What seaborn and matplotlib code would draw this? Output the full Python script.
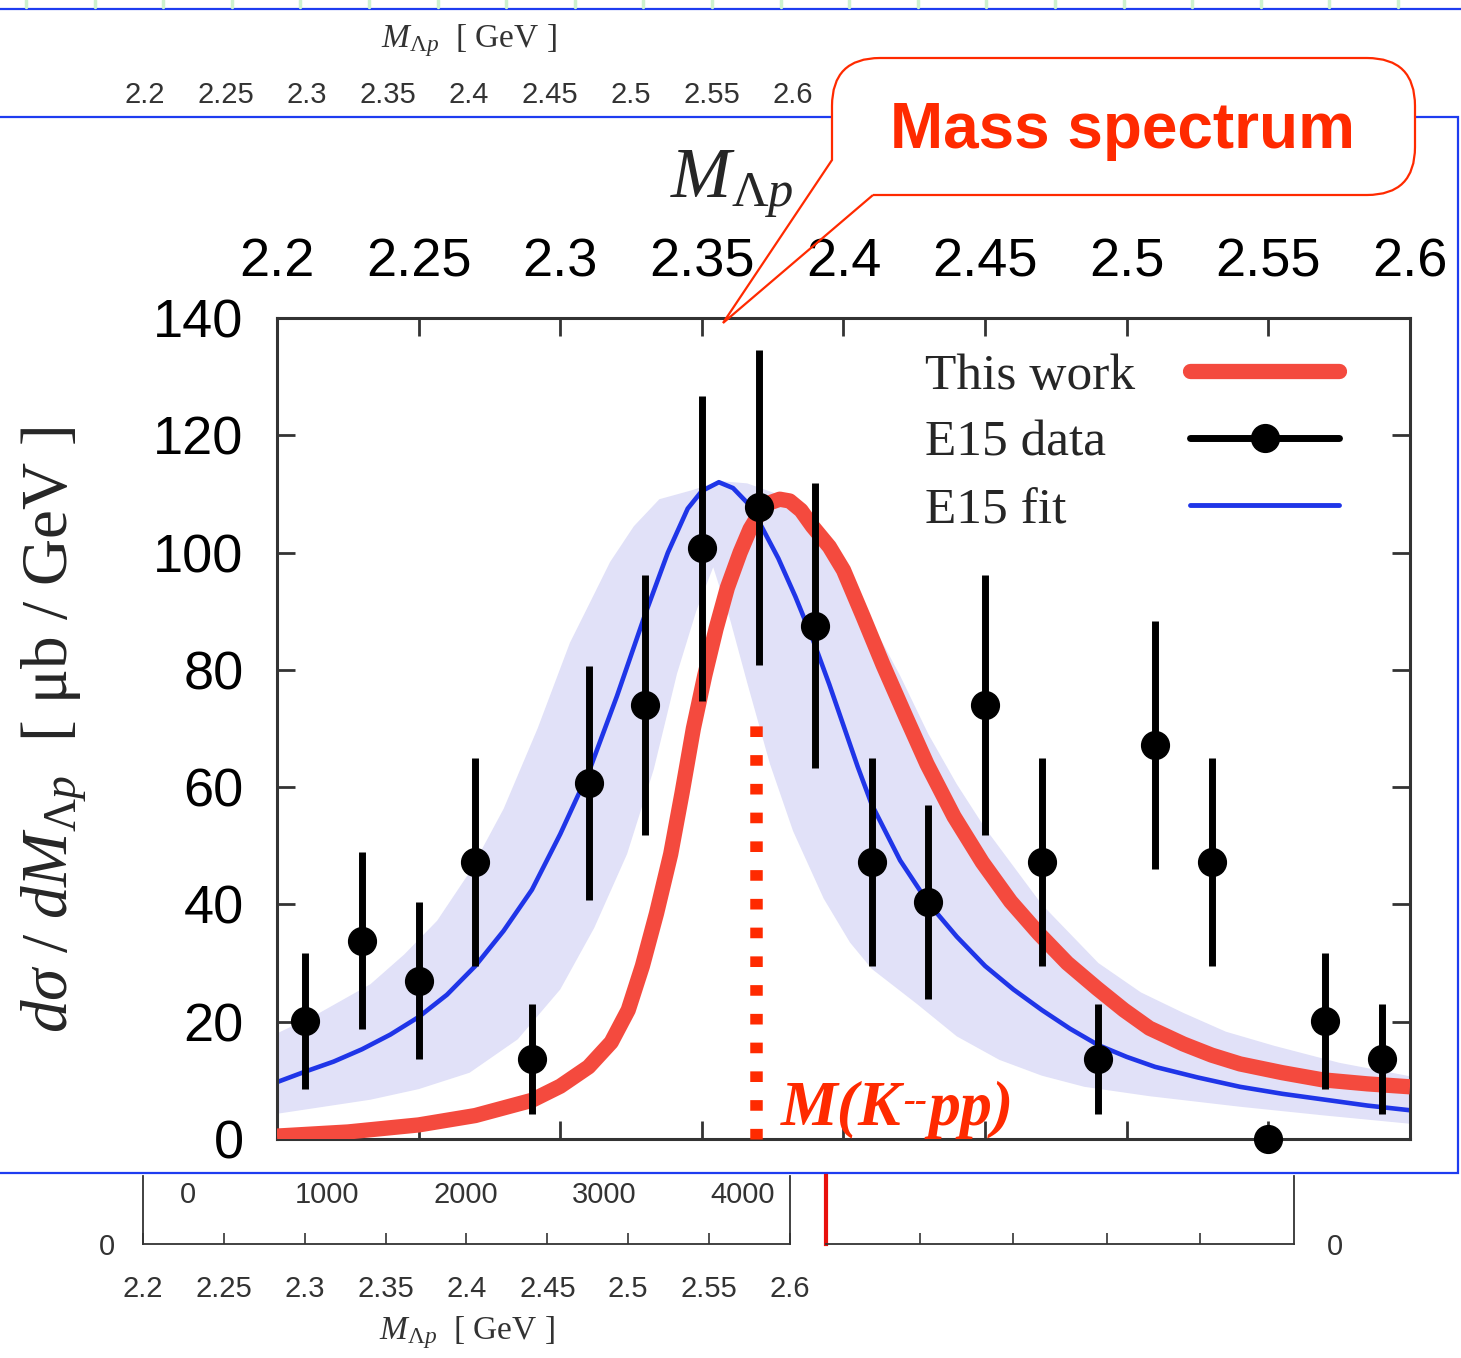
import numpy as np
import pandas as pd
import matplotlib
matplotlib.use("Agg")
import matplotlib.pyplot as plt
import seaborn as sns
from matplotlib.path import Path
from matplotlib.patches import PathPatch, Rectangle
from matplotlib.lines import Line2D

# ---------------- data ----------------
# E15 data points (Lambda-p invariant mass, cross section and error)
e15_mass = [2.21, 2.23, 2.25, 2.27, 2.29, 2.31, 2.33, 2.35, 2.37, 2.39,
            2.41, 2.43, 2.45, 2.47, 2.49, 2.51, 2.53, 2.55, 2.57, 2.59]
e15_xsec = [20.1, 33.8, 27.0, 47.2, 13.6, 60.7, 74.0, 100.7, 107.7, 87.5,
            47.2, 40.4, 74.0, 47.2, 13.6, 67.2, 47.2, 0.0, 20.1, 13.6]
e15_err = [11.6, 15.1, 13.4, 17.7, 9.4, 20.0, 22.1, 26.0, 26.9, 24.3,
           17.7, 16.5, 22.1, 17.7, 9.4, 21.2, 17.7, 0.0, 11.6, 9.4]

# E15 fit curve
fit_mass = [2.200, 2.210, 2.220, 2.230, 2.240, 2.250, 2.260, 2.270, 2.280, 2.290,
            2.300, 2.310, 2.320, 2.330, 2.338, 2.345, 2.350, 2.356, 2.361, 2.366,
            2.371, 2.377, 2.383, 2.389, 2.395, 2.400, 2.405, 2.410, 2.420, 2.430,
            2.440, 2.450, 2.460, 2.470, 2.480, 2.490, 2.500, 2.510, 2.525, 2.540,
            2.555, 2.570, 2.585, 2.600]
fit_xsec = [9.7, 11.5, 13.2, 15.3, 17.8, 20.8, 24.6, 29.5, 35.5, 42.5,
            52.0, 62.5, 75.5, 89.5, 100.0, 107.5, 110.5, 112.0, 111.0, 108.5,
            104.5, 99.0, 92.5, 85.4, 77.5, 70.5, 63.5, 57.0, 47.5, 40.2,
            34.5, 29.5, 25.5, 22.0, 18.8, 16.0, 14.0, 12.3, 10.5, 8.9,
            7.7, 6.7, 5.7, 4.9]

# E15 fit uncertainty band: upper and lower edges
band_hi_mass = [2.200, 2.215, 2.233, 2.245, 2.2565, 2.268, 2.280, 2.292, 2.3034, 2.310,
                2.3176, 2.326, 2.335, 2.347, 2.356, 2.366, 2.3765, 2.385, 2.393, 2.400,
                2.410, 2.420, 2.430, 2.440, 2.450, 2.460, 2.470, 2.480, 2.490, 2.505,
                2.520, 2.535, 2.552, 2.575, 2.600]
band_hi_xsec = [18.0, 21.5, 26.4, 31.5, 37.2, 45.5, 56.3, 70.0, 84.6, 91.0,
                98.4, 104.5, 109.1, 110.7, 112.2, 111.8, 110.0, 106.0, 101.0, 96.0,
                88.0, 79.0, 69.0, 60.5, 53.0, 46.5, 40.0, 35.0, 30.0, 25.0,
                21.5, 18.3, 15.9, 13.0, 10.7]
band_lo_mass = [2.200, 2.233, 2.250, 2.268, 2.285, 2.300, 2.312, 2.3236, 2.333, 2.3412,
                2.348, 2.354, 2.360, 2.366, 2.374, 2.3822, 2.393, 2.4023, 2.410, 2.426,
                2.440, 2.455, 2.470, 2.485, 2.508, 2.540, 2.570, 2.600]
band_lo_xsec = [4.3, 6.7, 8.5, 11.3, 17.0, 25.5, 36.0, 48.6, 63.0, 79.3,
                90.0, 97.5, 88.5, 77.8, 64.0, 52.5, 41.0, 33.5, 29.0, 23.0,
                17.5, 13.5, 10.8, 8.9, 7.3, 5.5, 4.0, 2.6]

# This work
calc_mass = [2.200, 2.225, 2.250, 2.270, 2.290, 2.300, 2.310, 2.318, 2.324, 2.329,
             2.334, 2.339, 2.343, 2.347, 2.351, 2.355, 2.359, 2.3635, 2.367, 2.3705,
             2.374, 2.3775, 2.381, 2.385, 2.389, 2.395, 2.400, 2.407, 2.414, 2.422,
             2.4295, 2.439, 2.449, 2.459, 2.469, 2.479, 2.4895, 2.499, 2.508, 2.520,
             2.530, 2.540, 2.555, 2.569, 2.585, 2.600]
calc_xsec = [0.5, 1.2, 2.4, 4.0, 6.6, 9.0, 12.3, 16.5, 22.0, 29.5,
             38.5, 48.6, 59.0, 70.0, 79.0, 87.0, 94.0, 100.0, 104.0, 106.8,
             108.5, 109.1, 108.8, 107.2, 104.5, 101.0, 97.0, 89.0, 80.8, 72.0,
             63.9, 55.0, 47.2, 40.5, 35.0, 30.0, 25.7, 22.0, 18.9, 16.2,
             14.3, 12.8, 11.3, 10.1, 9.4, 8.9]

# K- pp mass marker
kpp_mass = 2.369
kpp_line_top = 72.0

# axis ticks
mass_ticks = [2.2, 2.25, 2.3, 2.35, 2.4, 2.45, 2.5, 2.55, 2.6]
mass_tick_labels = ["2.2", "2.25", "2.3", "2.35", "2.4", "2.45", "2.5", "2.55", "2.6"]
xsec_ticks = [0, 20, 40, 60, 80, 100, 120, 140]
count_ticks = [0, 1000, 2000, 3000, 4000]
count_tick_labels = ["0", "1000", "2000", "3000", "4000"]
legend_labels = ["This work", "E15 data", "E15 fit"]

# ---------------- style ----------------
sns.set_theme(style="ticks")
plt.rcParams["font.family"] = ["Liberation Sans", "DejaVu Sans"]
plt.rcParams["mathtext.fontset"] = "custom"
plt.rcParams["mathtext.rm"] = "Liberation Serif"
plt.rcParams["mathtext.it"] = "Liberation Serif:italic"
plt.rcParams["mathtext.bf"] = "Liberation Serif:bold"

RED = "#f44a3e"
BLUE = "#1f35e8"
BAND = "#e1e1f8"
CALLOUT = "#ff2a00"
FRAME_BLUE = "#1e3cf0"
DARK = "#333333"
SERIF = ["Liberation Serif", "DejaVu Serif"]

W, H = 1461, 1358
fig = plt.figure(figsize=(W / 100, H / 100), dpi=100)
fig.patch.set_facecolor("white")


def fx(px):
    return px / W


def fy(py):
    return 1 - py / H


# ---------------- frames around the panels ----------------
fig.add_artist(Line2D([0, 1], [fy(9), fy(9)], transform=fig.transFigure,
                      color=FRAME_BLUE, lw=1.6, zorder=1))
for gx in np.arange(26, W, 68.6):
    fig.add_artist(Line2D([fx(gx), fx(gx)], [fy(0), fy(7)], transform=fig.transFigure,
                          color="#cdf2cd", lw=2.5, zorder=1))
fig.add_artist(Rectangle((fx(-2), fy(1173)), fx(1460), (1173 - 117) / H,
                         transform=fig.transFigure, facecolor="white",
                         edgecolor=FRAME_BLUE, lw=1.6, zorder=-1))

# ---------------- upper strip (axis of another panel) ----------------
ax_t = fig.add_axes([fx(145), fy(78), (793 - 145) / W, 20 / H])
ax_t.set_facecolor("none")
ax_t.set_xlim(2.2, 2.6)
ax_t.set_ylim(0, 1)
ax_t.set_xticks(mass_ticks)
ax_t.set_xticklabels(mass_tick_labels)
ax_t.set_yticks([])
ax_t.tick_params(axis="x", length=0, pad=2, labelsize=21, labelcolor=DARK)
for s in ax_t.spines.values():
    s.set_visible(False)
ax_t.xaxis.set_label_position("top")
ax_t.set_xlabel(r"$M_{\Lambda p}$  [ GeV ]", fontsize=24, family=SERIF,
                color=DARK, labelpad=8)

# ---------------- lower strip (axes of other panels) ----------------
ax_b1 = fig.add_axes([fx(143), fy(1244), (790 - 143) / W, (1244 - 1176) / H])
ax_b1.set_facecolor("none")
ax_b1.set_xlim(2.2, 2.6)
ax_b1.set_ylim(0, 1)
ax_b1.set_xticks(mass_ticks)
ax_b1.set_xticklabels(mass_tick_labels)
ax_b1.set_yticks([0])
ax_b1.set_yticklabels(["0"])
ax_b1.tick_params(axis="x", direction="in", length=8, width=1.2, color=DARK,
                  pad=22, labelsize=21, labelcolor=DARK)
ax_b1.tick_params(axis="y", length=0, pad=20, labelsize=21, labelcolor=DARK)
ax_b1.spines["top"].set_visible(False)
for k in ("left", "right", "bottom"):
    ax_b1.spines[k].set_color(DARK)
    ax_b1.spines[k].set_linewidth(1.3)
ax_b1.set_xlabel(r"$M_{\Lambda p}$  [ GeV ]", fontsize=24, family=SERIF,
                 color=DARK, labelpad=8)

ax_b1c = ax_b1.twiny()
ax_b1c.set_xlim(-324, 4339)
ax_b1c.set_xticks(count_ticks)
ax_b1c.set_xticklabels(count_tick_labels)
ax_b1c.tick_params(axis="x", length=0, pad=-24, labelsize=21, labelcolor=DARK)
for s in ax_b1c.spines.values():
    s.set_visible(False)

ax_b2 = fig.add_axes([fx(826), fy(1244), (1294 - 826) / W, (1244 - 1176) / H])
ax_b2.set_facecolor("none")
ax_b2.set_xlim(0, 5)
ax_b2.set_ylim(0, 1)
ax_b2.set_xticks([1, 2, 3, 4])
ax_b2.set_xticklabels([])
ax_b2.tick_params(axis="x", direction="in", length=8, width=1.2, color=DARK)
ax_b2.yaxis.tick_right()
ax_b2.set_yticks([0])
ax_b2.set_yticklabels(["0"])
ax_b2.tick_params(axis="y", length=0, pad=24, labelsize=21, labelcolor=DARK)
ax_b2.spines["top"].set_visible(False)
ax_b2.spines["left"].set_color("#e8100c")
ax_b2.spines["left"].set_linewidth(3)
for k in ("right", "bottom"):
    ax_b2.spines[k].set_color(DARK)
    ax_b2.spines[k].set_linewidth(1.3)

# ---------------- main panel ----------------
ax = fig.add_axes([fx(277), fy(1139), (1410 - 277) / W, (1139 - 318) / H])
ax.set_facecolor("white")

band_poly = pd.DataFrame({
    "mass": list(band_hi_mass) + list(band_lo_mass[::-1]),
    "xsec": list(band_hi_xsec) + list(band_lo_xsec[::-1]),
})
ax.fill(band_poly["mass"], band_poly["xsec"], color=BAND, lw=0, zorder=1)

fit_df = pd.DataFrame({"mass": fit_mass, "xsec": fit_xsec})
calc_df = pd.DataFrame({"mass": calc_mass, "xsec": calc_xsec})
sns.lineplot(data=fit_df, x="mass", y="xsec", ax=ax, color=BLUE, lw=3.3,
             sort=False, zorder=2)
sns.lineplot(data=calc_df, x="mass", y="xsec", ax=ax, color=RED, lw=11,
             sort=False, zorder=3, solid_capstyle="butt")

ax.errorbar(e15_mass, e15_xsec, yerr=e15_err, fmt="o", color="black", ms=20,
            elinewidth=5, capsize=0, zorder=5, clip_on=False)

ax.plot([kpp_mass, kpp_mass], [0, kpp_line_top], color=CALLOUT, lw=9,
        linestyle=(0, (0.85, 1.45)), solid_capstyle="butt", dash_capstyle="butt",
        zorder=6, clip_on=False)

# M(K--pp) label, built from three pieces so the superscript stays short
lab_kw = dict(color=CALLOUT, family=SERIF, fontstyle="italic", fontweight="bold",
              zorder=7)
t_head = ax.text(2.378, 2.4, "M(K", fontsize=46, ha="left", va="baseline", **lab_kw)
t_sup = ax.annotate("--", xy=(1, 1), xycoords=t_head, xytext=(1, -4),
                    textcoords="offset points", fontsize=26, ha="left", va="top",
                    **lab_kw)
t_tail = ax.annotate("pp)", xy=(1, 0), xycoords=(t_sup, t_head), xytext=(1, 0),
                     textcoords="offset points", fontsize=46, ha="left",
                     va="bottom", **lab_kw)

ax.set_xlim(2.2, 2.6)
ax.set_ylim(0, 140)
ax.set_xticks(mass_ticks)
ax.set_xticklabels(mass_tick_labels)
ax.set_yticks(xsec_ticks)
ax.tick_params(axis="x", top=True, bottom=True, labeltop=True, labelbottom=False,
               direction="in", length=13, width=2, color=DARK, pad=22, labelsize=39,
               labelcolor="black")
ax.tick_params(axis="y", left=True, right=True, direction="in", length=13, width=2,
               color=DARK, pad=24, labelsize=39, labelcolor="black")
for s in ax.spines.values():
    s.set_color(DARK)
    s.set_linewidth(2.2)
    s.set_visible(True)

ax.xaxis.set_label_position("top")
ax.set_xlabel(r"$M_{\Lambda p}$", fontsize=52, family=SERIF)
ax.xaxis.set_label_coords((732 - 277) / 1133, (1139 - 198) / 821)
ax.set_ylabel(r"$d\sigma\ /\ dM_{\Lambda p}$  [ μb / GeV ]", fontsize=47,
              family=SERIF)
ax.yaxis.set_label_coords(-0.166, 0.498)

# legend: label column on the left, line samples on the right
handles = [
    Line2D([], [], color=RED, lw=11),
    Line2D([], [], color="black", lw=5, marker="o", ms=20),
    Line2D([], [], color=BLUE, lw=3.5),
]
blank = [Line2D([], [], lw=0) for _ in legend_labels]
leg_kw = dict(frameon=False, labelspacing=0.39, borderpad=0, borderaxespad=0,
              prop={"family": SERIF, "size": 37})
leg_top = (1139 - 353) / 821
leg_text = ax.legend(blank, legend_labels, loc="upper left",
                     bbox_to_anchor=((925 - 277) / 1133, leg_top),
                     handlelength=0, handletextpad=0, **leg_kw)
ax.add_artist(leg_text)
leg_lines = ax.legend(handles, [" "] * len(handles), loc="upper left",
                      bbox_to_anchor=((1190 - 277) / 1133, leg_top),
                      handlelength=2.9, handletextpad=0, **leg_kw)

# ---------------- callout ----------------
x0, x1, y0, y1, r = 832, 1415, 58, 195, 48
tip = (723, 323)
jx, jy = 832, 160
kx = 873
outline = [
    ((kx, y1), Path.MOVETO),
    ((x1 - r, y1), Path.LINETO),
    ((x1, y1), Path.CURVE3), ((x1, y1 - r), Path.CURVE3),
    ((x1, y0 + r), Path.LINETO),
    ((x1, y0), Path.CURVE3), ((x1 - r, y0), Path.CURVE3),
    ((x0 + r, y0), Path.LINETO),
    ((x0, y0), Path.CURVE3), ((x0, y0 + r), Path.CURVE3),
    ((jx, jy), Path.LINETO),
]
fill_verts = outline + [((x0, y1), Path.LINETO), ((kx, y1), Path.LINETO)]
edge_verts = outline + [(tip, Path.LINETO), ((kx, y1), Path.LINETO)]


def to_fig(items):
    verts = [(fx(p[0]), fy(p[1])) for p, _ in items]
    codes = [c for _, c in items]
    return Path(verts, codes)


fig.add_artist(PathPatch(to_fig(fill_verts), transform=fig.transFigure,
                         facecolor="white", edgecolor="none", zorder=5))
fig.add_artist(PathPatch(to_fig(edge_verts), transform=fig.transFigure,
                         facecolor="none", edgecolor=CALLOUT, lw=1.6, zorder=6,
                         joinstyle="miter"))
fig.text(fx(1122), fy(131), "Mass spectrum", color=CALLOUT, fontsize=46,
         fontweight="bold", family="Liberation Sans", ha="center", va="center",
         zorder=7)

fig.savefig("out.png", dpi=100)
